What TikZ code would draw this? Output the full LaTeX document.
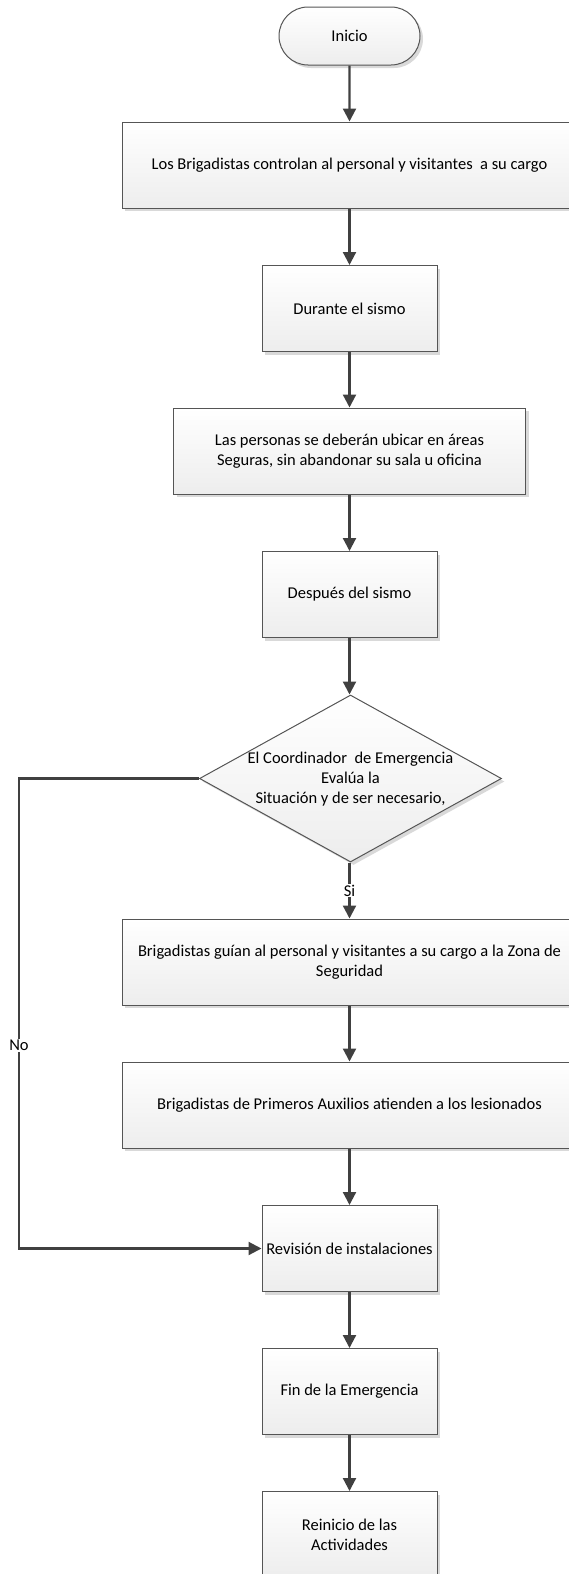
\documentclass[tikz,border=0pt]{standalone}
\usepackage{fontspec}
\setmainfont{Carlito}
\usetikzlibrary{arrows.meta,shapes.geometric,shapes.misc,shadows}

\definecolor{edgegray}{HTML}{555555}
\definecolor{linegray}{HTML}{404040}
\definecolor{fillbot}{HTML}{EDEDED}
\definecolor{shadowgray}{HTML}{D9D9D9}

\tikzset{
  boxlook/.style={draw=edgegray, line width=1pt, top color=white, bottom color=fillbot,
    drop shadow={shadow xshift=3pt, shadow yshift=-3pt, fill=shadowgray, opacity=1},
    align=center, inner sep=2pt, font=\fontsize{16.5}{20}\selectfont},
  stepbox/.style={boxlook, rectangle, minimum height=86pt},
  widebox/.style={stepbox, minimum width=455pt},
  midbox/.style={stepbox, minimum width=352pt},
  smallbox/.style={stepbox, minimum width=175pt},
  terminal/.style={boxlook, rounded rectangle, minimum width=145pt, minimum height=58pt},
  decision/.style={boxlook, diamond, minimum width=302pt, minimum height=167pt, inner sep=0pt},
  flow/.style={draw=linegray, line width=2.2pt, -{Triangle[length=13pt,width=13pt]}},
  flowlabel/.style={fill=white, inner sep=1pt, font=\fontsize{16.5}{20}\selectfont},
}

\begin{document}
\begin{tikzpicture}[x=1pt,y=-1pt]
  \useasboundingbox (0,0) rectangle (569,1574);
  \clip (0,0) rectangle (569,1574);

  % process steps, top to bottom
  \node[terminal] (inicio) at (349.5,36) {Inicio};
  \node[widebox]  (b1) at (349.5,165)   {Los Brigadistas controlan al personal y visitantes\ \ a su cargo};
  \node[smallbox] (b2) at (349.5,308.5) {Durante el sismo};
  \node[midbox]   (b3) at (349.5,451)   {Las personas se deberán ubicar en áreas\\Seguras, sin abandonar su sala u oficina};
  \node[smallbox] (b4) at (349.5,594.5) {Después del sismo};
  \node[decision] (dec) at (350.5,778.5) {};
  \node[font=\fontsize{16.5}{20}\selectfont, align=center] (dectext) at ([yshift=-1pt]dec.center)
       {El Coordinador\ \ de Emergencia\\Evalúa la\\Situación y de ser necesario,};
  \node[widebox]  (b5) at (349.5,962)   {Brigadistas guían al personal y visitantes a su cargo a la Zona de\\Seguridad};
  \node[widebox]  (b6) at (349.5,1105)  {Brigadistas de Primeros Auxilios atienden a los lesionados};
  \node[smallbox] (b7) at (349.5,1248.5) {Revisión de instalaciones};
  \node[smallbox] (b8) at (349.5,1391.5) {Fin de la Emergencia};
  \node[smallbox] (b9) at (349.5,1534.5) {Reinicio de las\\Actividades};

  % connectors
  \draw[flow] (inicio) -- (b1);
  \draw[flow] (b1) -- (b2);
  \draw[flow] (b2) -- (b3);
  \draw[flow] (b3) -- (b4);
  \draw[flow] (b4) -- (b4 |- dec.north);
  \draw[flow] (b5 |- dec.south) -- node[flowlabel] {Si} (b5);
  \draw[flow] (b5) -- (b6);
  \draw[flow] (b6) -- (b7);
  \draw[flow] (b7) -- (b8);
  \draw[flow] (b8) -- (b9);

  % "No" branch along the left side
  \coordinate (leftrail) at (19,0);
  \draw[flow] (dec.west) -- (dec.west -| leftrail)
     -- node[flowlabel, pos=0.568] {No} (b7.west -| leftrail) -- (b7.west);
\end{tikzpicture}
\end{document}
